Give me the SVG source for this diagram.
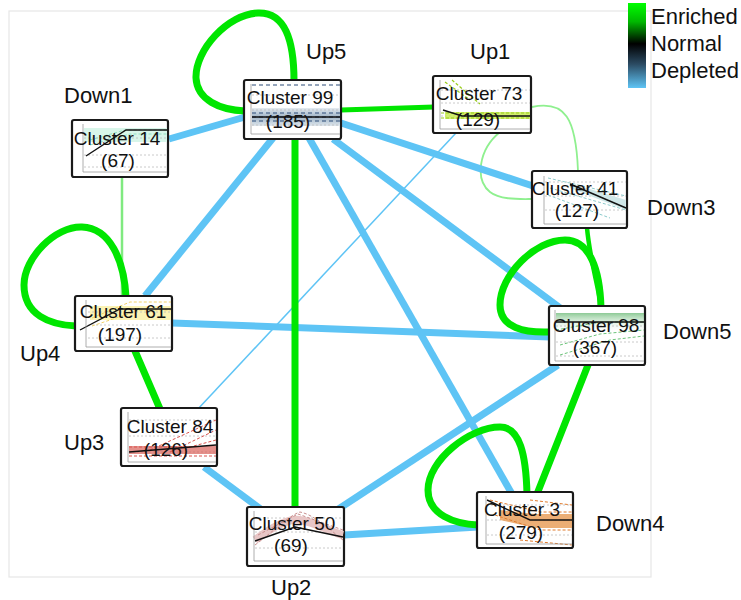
<svg xmlns="http://www.w3.org/2000/svg" width="741" height="600" viewBox="0 0 741 600">
<defs>
<linearGradient id="leg" x1="0" y1="0" x2="0" y2="1">
<stop offset="0" stop-color="#00ff00"/>
<stop offset="0.22" stop-color="#00b800"/>
<stop offset="0.48" stop-color="#000000"/>
<stop offset="0.72" stop-color="#2b4b63"/>
<stop offset="1" stop-color="#5ec4f5"/>
</linearGradient>
<linearGradient id="g99" x1="0" y1="0" x2="0" y2="1">
<stop offset="0" stop-color="#e4ebf1"/><stop offset="0.5" stop-color="#9fb4c6"/><stop offset="1" stop-color="#dfe7ee"/>
</linearGradient>
<linearGradient id="g98" x1="0" y1="0" x2="0" y2="1">
<stop offset="0" stop-color="#2f9e3f"/><stop offset="1" stop-color="#ffffff" stop-opacity="0"/>
</linearGradient>
</defs>
<style>
.t{font-family:"Liberation Sans",Arial,sans-serif;font-size:19px;fill:#111}
.l{font-family:"Liberation Sans",Arial,sans-serif;font-size:22px;fill:#111}
.box{fill:#fff;stroke:#1a1a1a;stroke-width:2.2}
.grid{stroke:#bdbdbd;stroke-width:0.8;stroke-dasharray:2 2;fill:none}
.ax{stroke:#999;stroke-width:0.8;fill:none}
.tr{stroke:#111;stroke-width:1.4;fill:none}
.eg{fill:none;stroke:#00e600;stroke-linecap:round}
.eb{fill:none;stroke:#5ec4f5;stroke-linecap:butt}
</style>
<rect x="9" y="11" width="642" height="566" fill="none" stroke="#e6e6e6" stroke-width="1.2"/>
<g id="legend">
<rect x="628" y="3" width="18" height="85" fill="url(#leg)"/>
<text class="l" x="651" y="24">Enriched</text>
<text class="l" x="651" y="51">Normal</text>
<text class="l" x="651" y="78">Depleted</text>
</g>
<g id="connectors">
<path class="eb" d="M456,133 L197,410" stroke="#d3eefc" stroke-width="1.5"/>
<path d="M532,107 C565,100 576,118 578,171" fill="none" stroke="#8ff08f" stroke-width="1.8"/>
<path d="M500,132 C478,150 475,180 490,192 C500,200 520,199 532,199" fill="none" stroke="#8ff08f" stroke-width="1.8"/>
<path d="M122,177 L122,296" fill="none" stroke="#80ea80" stroke-width="2.5"/>
<path class="eb" d="M245,117 L169,139" stroke-width="7"/>
<path class="eb" d="M273,138 L145,296" stroke-width="7"/>
<path class="eb" d="M309,138 L512,494" stroke-width="7"/>
<path class="eb" d="M341,123 L533,186" stroke-width="7"/>
<path class="eb" d="M333,139 L563,310" stroke-width="7"/>
<path class="eb" d="M172,323 L550,337" stroke-width="7"/>
<path class="eb" d="M558,365 L337,510" stroke-width="7"/>
<path class="eb" d="M204,467 L262,510" stroke-width="7"/>
<path class="eb" d="M344,535 L478,527" stroke-width="7"/>
<path class="eg" d="M341,110 L434,107" stroke-width="5" stroke="#33e633"/>
<path class="eg" d="M295,139 L295,507" stroke-width="7"/>
<path class="eg" d="M135,351 L160,409" stroke-width="7"/>
<path class="eg" d="M587,228 C590,260 598,285 601,307" stroke-width="4.5" stroke="#2ee62e"/>
<path class="eg" d="M588,365 L537,494" stroke-width="7"/>
<path class="eg" d="M294,81 C294,40 285,12 258,13 C228,14 195,50 196,78 C197,100 220,110 245,111" stroke-width="7"/>
<path class="eg" d="M126,297 C124,260 110,228 82,227 C55,226 24,258 24,285 C24,315 50,325 76,326" stroke-width="7"/>
<path class="eg" d="M601,308 C600,270 590,240 565,240 C535,240 500,275 500,305 C500,328 525,333 550,332" stroke-width="7"/>
<path class="eg" d="M527,494 C526,455 520,427 500,427 C470,427 428,460 428,490 C428,515 455,524 478,525" stroke-width="7"/>
</g>
<g id="cluster99">
<rect class="box" x="244" y="80" width="97" height="59" rx="2"/>
<rect x="252" y="108" width="88" height="18" fill="url(#g99)"/>
<path class="grid" d="M252,95 H340 M252,110 H340 M252,125 H340"/>
<path d="M252,85 H340 M252,113 H340 M252,117 H340 M252,121 H340" stroke="#2c4c78" stroke-width="1.2" stroke-dasharray="4 3" fill="none"/>
<path class="tr" d="M252,117 H340"/>
<path class="ax" d="M251,84 V134 H340"/>
<text class="t" x="290" y="104" text-anchor="middle">Cluster 99</text>
<text class="t" x="288" y="128" text-anchor="middle">(185)</text>
</g>
<g id="cluster73">
<rect class="box" x="433" y="76" width="98" height="57" rx="2"/>
<path class="grid" d="M441,90 H530 M441,103 H530 M441,116 H530"/>
<rect x="445" y="112" width="85" height="7" fill="#c5ea4a" opacity="0.8"/>
<path d="M445,82 L470,100 M452,80 L480,104 M441,113 H530 M441,118 H530" stroke="#9acd1e" stroke-width="1.2" stroke-dasharray="3 2" fill="none"/>
<path class="tr" d="M443,110 L462,116 H530"/>
<path class="ax" d="M440,80 V129 H530"/>
<text class="t" x="479" y="100" text-anchor="middle">Cluster 73</text>
<text class="t" x="478" y="126" text-anchor="middle">(129)</text>
</g>
<g id="cluster14">
<rect class="box" x="72" y="120" width="96" height="57" rx="2"/>
<rect x="84" y="128" width="83" height="14" fill="#d8f6ea"/>
<path class="grid" d="M84,138 H167 M84,155 H167 M84,167 H167"/>
<path d="M90,140 L125,130 H167 M90,145 L130,134 H167" stroke="#8fe0c0" stroke-width="1" stroke-dasharray="3 2" fill="none"/>
<path class="tr" d="M86,156 L126,130 H167"/>
<path class="ax" d="M83,124 V172 H167"/>
<text class="t" x="117" y="145" text-anchor="middle">Cluster 14</text>
<text class="t" x="118" y="167" text-anchor="middle">(67)</text>
</g>
<g id="cluster41">
<rect class="box" x="532" y="171" width="95" height="57" rx="2"/>
<path class="grid" d="M545,182 H626 M545,196 H626 M545,210 H626"/>
<path d="M548,178 L626,196 M550,188 L626,210 M548,195 L610,218" stroke="#8ccbcc" stroke-width="1" stroke-dasharray="3 2" fill="none"/>
<path d="M570,183 L626,200 L626,210 L570,188 Z" fill="#cfe7e8"/>
<path class="tr" d="M570,184 L626,208"/>
<path class="ax" d="M544,176 V224 H626"/>
<text class="t" x="575" y="195" text-anchor="middle">Cluster 41</text>
<text class="t" x="577" y="217" text-anchor="middle">(127)</text>
</g>
<g id="cluster61">
<rect class="box" x="75" y="296" width="97" height="55" rx="2"/>
<rect x="90" y="306" width="81" height="14" fill="#fbf3b5"/>
<path class="grid" d="M88,312 H171 M88,325 H171 M88,338 H171"/>
<path d="M92,318 L130,302 H171 M92,326 L140,310 H171" stroke="#f1d36a" stroke-width="1" stroke-dasharray="3 2" fill="none"/>
<path class="tr" d="M80,330 L120,309 H171"/>
<path class="ax" d="M86,300 V347 H171"/>
<text class="t" x="123" y="318" text-anchor="middle">Cluster 61</text>
<text class="t" x="120" y="341" text-anchor="middle">(197)</text>
</g>
<g id="cluster98">
<rect class="box" x="549" y="306" width="96" height="59" rx="2"/>
<rect x="556" y="313" width="88" height="20" fill="url(#g98)" opacity="0.55"/>
<path class="grid" d="M556,326 H644 M556,342 H644 M556,356 H644"/>
<path d="M556,330 L600,322 H644 M560,345 L600,334 L644,330 M560,355 L610,340 L644,336" stroke="#6cc47a" stroke-width="1" stroke-dasharray="3 2" fill="none"/>
<path class="tr" d="M556,322 H644"/>
<path class="ax" d="M555,310 V361 H644"/>
<text class="t" x="596" y="332" text-anchor="middle">Cluster 98</text>
<text class="t" x="595" y="354" text-anchor="middle">(367)</text>
</g>
<g id="cluster84">
<rect class="box" x="121" y="408" width="96" height="58" rx="2"/>
<path class="grid" d="M129,420 H216 M129,436 H216 M129,452 H216"/>
<rect x="129" y="446" width="87" height="8" fill="#d8615a" opacity="0.7"/>
<path d="M150,450 L216,420 M170,452 L216,430 M129,447 H190 L216,440 M129,456 H216" stroke="#d9534f" stroke-width="1" stroke-dasharray="3 2" fill="none"/>
<path class="tr" d="M129,452 L216,445"/>
<path class="ax" d="M128,412 V462 H216"/>
<text class="t" x="170" y="433" text-anchor="middle">Cluster 84</text>
<text class="t" x="166" y="456" text-anchor="middle">(126)</text>
</g>
<g id="cluster50">
<rect class="box" x="247" y="507" width="97" height="59" rx="2"/>
<path class="grid" d="M255,518 H343 M255,532 H343 M255,548 H343"/>
<path d="M255,540 C275,525 290,518 300,520 C315,522 330,532 343,535" fill="none" stroke="#e8c6c6" stroke-width="8"/>
<path d="M255,545 C275,530 290,515 300,512 C315,515 330,530 343,540 M258,535 L298,514 L343,530" stroke="#c98f8f" stroke-width="1" stroke-dasharray="3 2" fill="none"/>
<path class="tr" d="M255,541 L295,527 L343,537"/>
<path class="ax" d="M254,511 V561 H343"/>
<text class="t" x="292" y="530" text-anchor="middle">Cluster 50</text>
<text class="t" x="291" y="552" text-anchor="middle">(69)</text>
</g>
<g id="cluster3">
<rect class="box" x="477" y="492" width="96" height="56" rx="2"/>
<path class="grid" d="M487,505 H572 M487,520 H572 M487,535 H572"/>
<path d="M500,510 L535,514 H572 V528 H535 L500,520 Z" fill="#e79a52" opacity="0.8"/>
<path d="M490,500 L540,512 H572 M495,515 L540,530 H572 M530,500 L572,505 M520,540 L572,545" stroke="#e07a2c" stroke-width="1" stroke-dasharray="3 2" fill="none"/>
<path class="tr" d="M487,500 L530,520 H572"/>
<path class="ax" d="M486,496 V544 H572"/>
<text class="t" x="522" y="516" text-anchor="middle">Cluster 3</text>
<text class="t" x="521" y="539" text-anchor="middle">(279)</text>
</g>
<g id="labels">
<text class="l" x="306" y="59">Up5</text>
<text class="l" x="470" y="59">Up1</text>
<text class="l" x="64" y="103">Down1</text>
<text class="l" x="647" y="215">Down3</text>
<text class="l" x="663" y="339">Down5</text>
<text class="l" x="20" y="361">Up4</text>
<text class="l" x="64" y="450">Up3</text>
<text class="l" x="271" y="595">Up2</text>
<text class="l" x="596" y="531">Down4</text>
</g>
</svg>
